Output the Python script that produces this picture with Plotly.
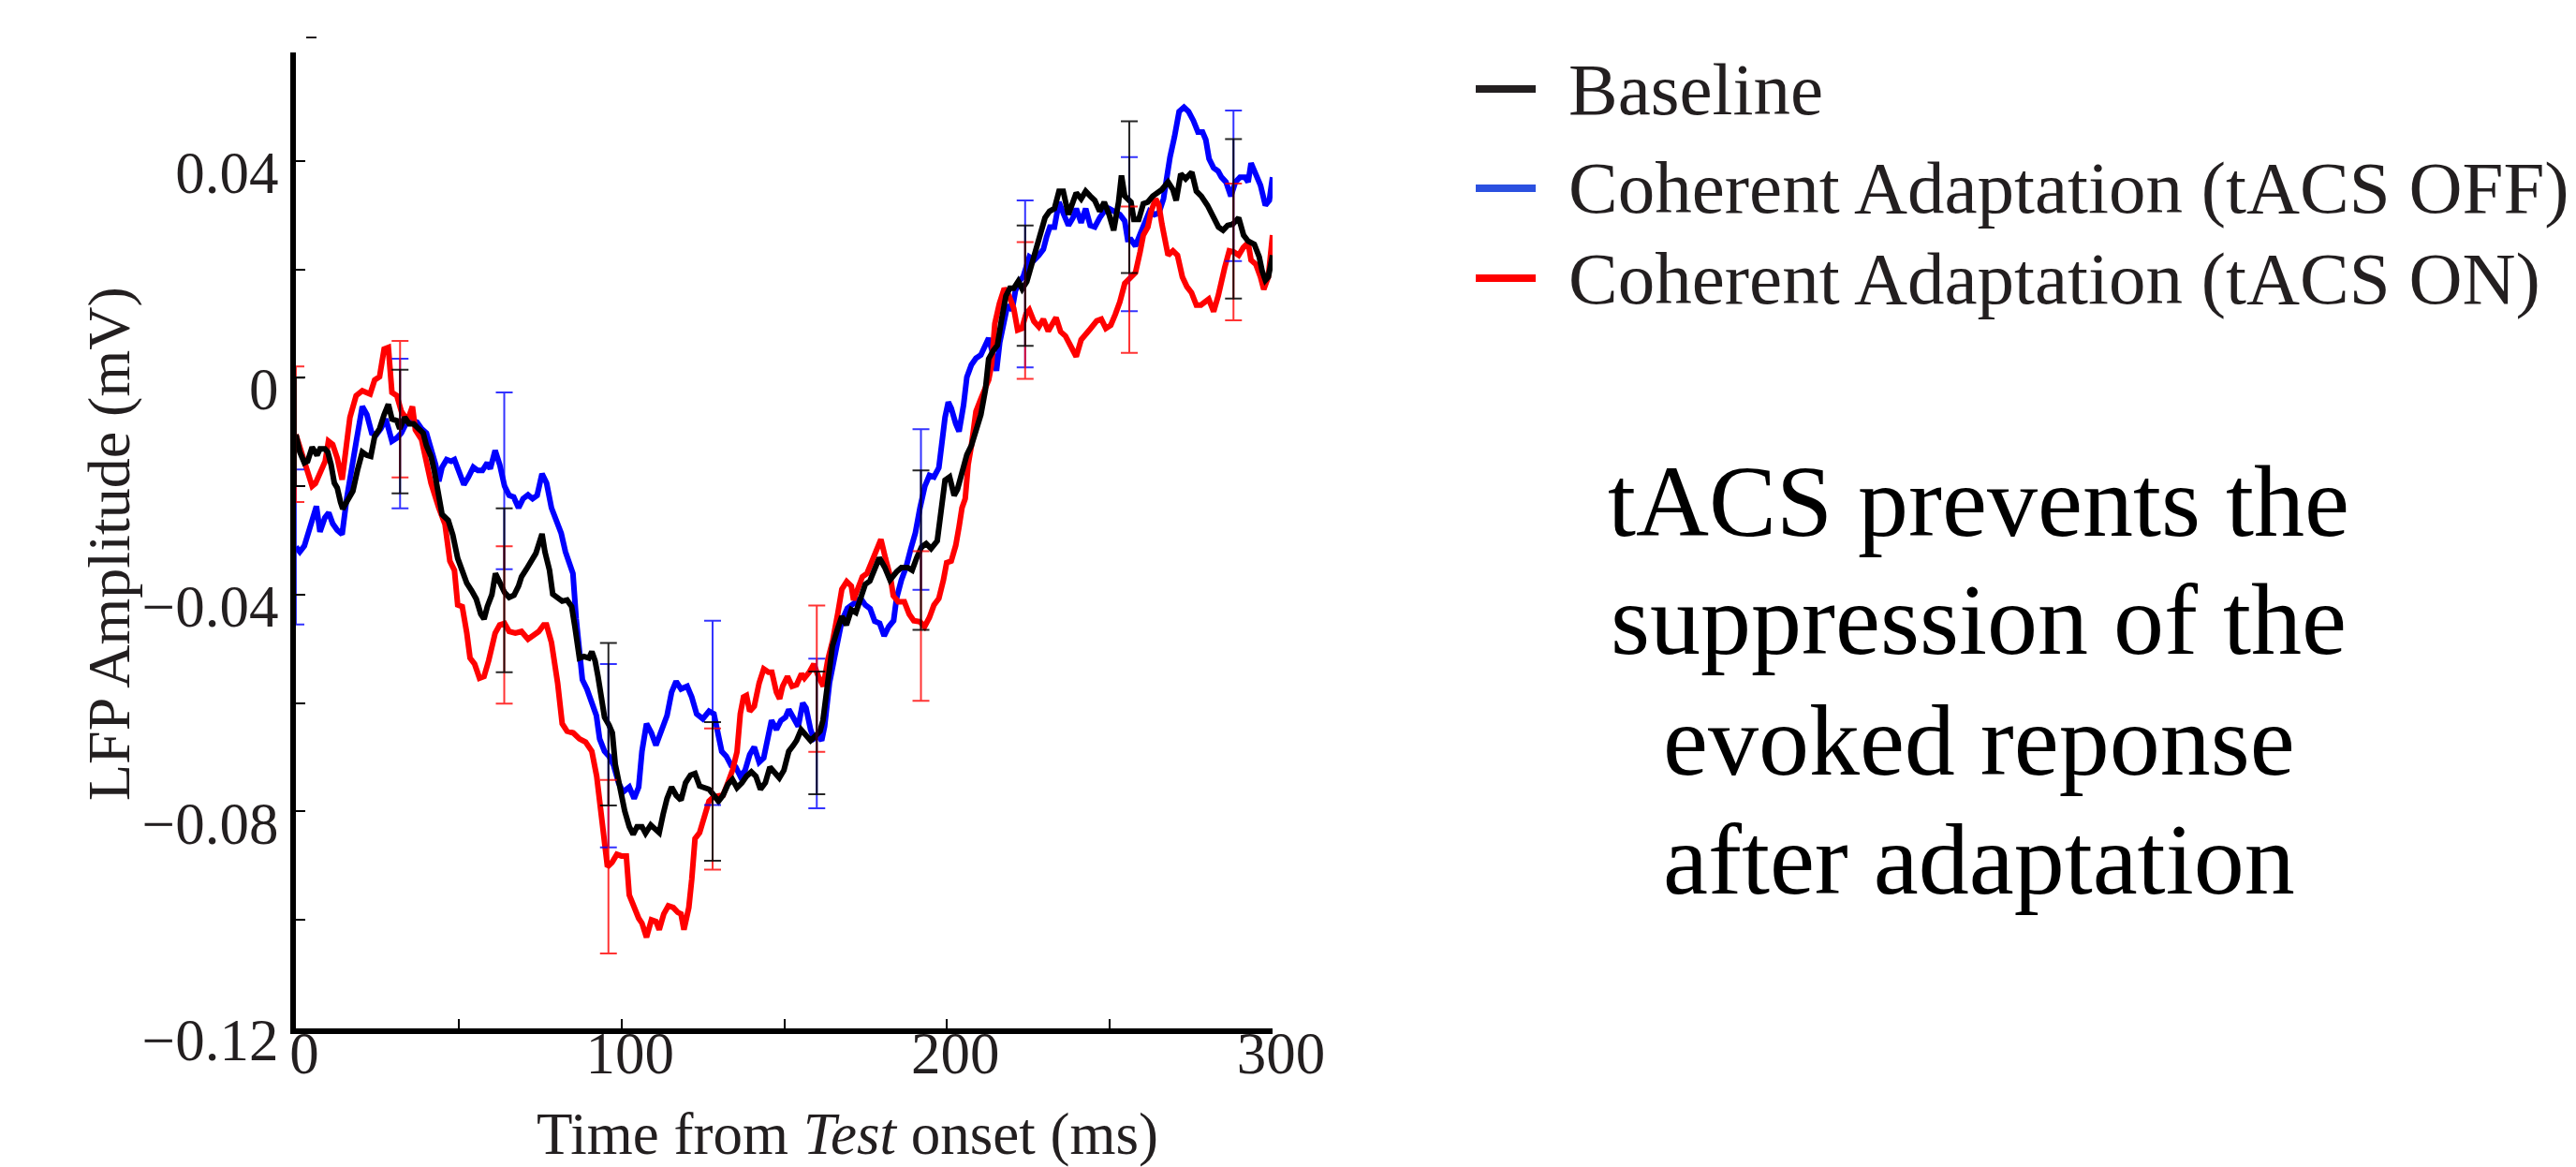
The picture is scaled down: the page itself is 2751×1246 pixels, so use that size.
import plotly.graph_objects as go

# ---------------- data ----------------
series_names = ["Baseline", "Coherent Adaptation (tACS OFF)", "Coherent Adaptation (tACS ON)"]

t_base = [0, 1.2, 2.6, 3.6, 5, 6.5, 7.4, 8.9, 9.8, 10.8, 11.8, 12.7, 13.7, 14.4, 15.6, 17.5, 18.9, 20.4, 21.8, 23,
          24.2, 25.7, 27.1, 28.4, 29.5, 31, 31.9, 33.4, 34.8, 36.2, 37.7, 39.1, 40.1, 41.5, 42.5, 43.7, 44.9, 46.8, 48.2, 49.7,
          51.1, 52.5, 54, 55.4, 56.8, 57.8, 58.8, 60.2, 61.3, 62.6, 64.1, 65.5, 67, 68.4, 69.3, 70.8, 72.2, 73.7, 74.6, 75.6,
          76.5, 77.9, 78.9, 80.4, 81.8, 83.3, 84.7, 85.7, 87.1, 88.5, 90, 90.9, 91.9, 92.8, 93.8, 94.8, 96.2, 97.2, 98.1, 99.6,
          101, 102.4, 103.6, 104.8, 106.3, 107.4, 109, 110.1, 111.6, 112.8, 114, 115.4, 116.8, 118.3, 119.7, 121.2, 122.6, 124, 125.5, 126.9,
          128.4, 129.8, 131.2, 132.7, 134.1, 135.5, 137, 138.4, 139.9, 141.3, 142.7, 144.2, 145.6, 147.1, 148.5, 149.9, 151.4, 152.8, 153.8, 155.2,
          156.7, 158.1, 159.5, 161, 161.9, 163.4, 164.8, 166.3, 167.7, 169.1, 170.6, 172, 173.5, 174.9, 176.3, 177.8, 179.2, 180.9, 182.5, 184.5,
          186, 187.9, 189.3, 190.7, 192.2, 193.6, 195.1, 197, 197.9, 199.4, 200.8, 202.2, 203.2, 204.6, 206.1, 207.5, 208.9, 210.4, 211.8, 212.8,
          214.2, 215.5, 216.7, 218.1, 219.3, 220.5, 221.9, 223.1, 224.5, 225.8, 227.2, 228.7, 230.1, 231.5, 233, 234.4, 235.7, 237.3, 238.7, 239.7,
          241.2, 242.6, 244, 245.4, 246.9, 248.3, 249.8, 251.2, 252.7, 253.6, 254.6, 255.5, 256.5, 257.4, 258.9, 260.3, 261.7, 263.2, 264.6, 266,
          267.9, 269.4, 270.4, 271.8, 273.3, 275.2, 276.6, 278.1, 280, 281.9, 283.4, 284.8, 286.2, 287.7, 289.6, 291.1, 292.5, 294.4, 295.9, 296.8,
          297.8, 298.7, 300]
v_base = [-0.0105, -0.0137, -0.0157, -0.0154, -0.0128, -0.0143, -0.0131, -0.0131, -0.0137, -0.0160, -0.0194, -0.0203, -0.0229, -0.0242, -0.0229, -0.0209, -0.0171, -0.0137, -0.0143, -0.0145,
          -0.0108, -0.0094, -0.0068, -0.0049, -0.0076, -0.0079, -0.0094, -0.0073, -0.0085, -0.0085, -0.0094, -0.0102, -0.0125, -0.0145, -0.0171, -0.0217, -0.0252, -0.0263, -0.0290, -0.0333,
          -0.0356, -0.0379, -0.0393, -0.0408, -0.0436, -0.0445, -0.0422, -0.0400, -0.0361, -0.0379, -0.0396, -0.0405, -0.0401, -0.0384, -0.0367, -0.0353, -0.0338, -0.0324, -0.0307, -0.0288,
          -0.0321, -0.0355, -0.0399, -0.0407, -0.0412, -0.0410, -0.0422, -0.0459, -0.0517, -0.0514, -0.0517, -0.0505, -0.0522, -0.0551, -0.0586, -0.0626, -0.0641, -0.0655, -0.0713, -0.0759,
          -0.0799, -0.0828, -0.0842, -0.0828, -0.0828, -0.0840, -0.0825, -0.0831, -0.0839, -0.0805, -0.0776, -0.0755, -0.0770, -0.0779, -0.0747, -0.0733, -0.0730, -0.0753, -0.0756, -0.0759,
          -0.0770, -0.0781, -0.0770, -0.0750, -0.0741, -0.0756, -0.0747, -0.0735, -0.0727, -0.0735, -0.0759, -0.0747, -0.0718, -0.0730, -0.0738, -0.0724, -0.0689, -0.0678, -0.0669, -0.0649,
          -0.0661, -0.0669, -0.0661, -0.0652, -0.0632, -0.0563, -0.0495, -0.0465, -0.0440, -0.0456, -0.0428, -0.0433, -0.0402, -0.0381, -0.0375, -0.0353, -0.0332, -0.0350, -0.0373, -0.0358,
          -0.0350, -0.0350, -0.0355, -0.0332, -0.0312, -0.0306, -0.0315, -0.0301, -0.0263, -0.0189, -0.0183, -0.0217, -0.0206, -0.0171, -0.0142, -0.0125, -0.0096, -0.0068, -0.0022, 0.0035,
          0.0050, 0.0060, 0.0105, 0.0151, 0.0165, 0.0165, 0.0178, 0.0164, 0.0177, 0.0205, 0.0237, 0.0263, 0.0295, 0.0307, 0.0312, 0.0344, 0.0344, 0.0301, 0.0324, 0.0341,
          0.0330, 0.0344, 0.0335, 0.0327, 0.0307, 0.0324, 0.0301, 0.0272, 0.0324, 0.0373, 0.0335, 0.0330, 0.0324, 0.0292, 0.0292, 0.0321, 0.0324, 0.0335, 0.0341, 0.0347,
          0.0361, 0.0347, 0.0327, 0.0376, 0.0367, 0.0379, 0.0344, 0.0335, 0.0318, 0.0295, 0.0278, 0.0272, 0.0281, 0.0283, 0.0295, 0.0263, 0.0252, 0.0246, 0.0223, 0.0197,
          0.0180, 0.0186, 0.0226]

t_off = [0, 1.2, 2.6, 4.1, 6.3, 7.4, 8.9, 10.1, 11.3, 12.7, 14.2, 15.6, 17, 18.5, 20.4, 21.8, 23.3, 24.7, 26.1, 27.6,
         28.6, 29.5, 31, 32.4, 33.8, 35.7, 37.2, 38.6, 40.1, 41.5, 42.9, 43.9, 44.9, 46.3, 47.7, 48.7, 50.1, 51.6, 53, 54.5,
         55.9, 57.3, 58.8, 59.7, 61.2, 62.6, 64.1, 65.5, 66.9, 68.4, 69.8, 71.3, 72.7, 74.1, 75.6, 77, 78.5, 79.9, 81.5, 82.8,
         84.3, 85.1, 86.1, 87.1, 88, 89.4, 90.9, 92.3, 93.3, 94.8, 96.2, 97.6, 99.1, 100.5, 102.4, 103.9, 105.3, 106.3, 107.7, 109.2,
         110.6, 112, 114, 115.4, 116.8, 118.3, 120.2, 121.6, 123.1, 125, 126.9, 128.4, 129.8, 130.8, 132.2, 133.7, 135.1, 136.5, 138, 139.4,
         140.8, 142.3, 143.7, 145.2, 146.1, 147.6, 149, 150.4, 151.4, 153.3, 154.3, 155.7, 156.7, 158.1, 159.1, 160.5, 161.5, 162.4, 163.9, 165.8,
         167.7, 169.4, 171.3, 173.5, 174.9, 176.4, 177.8, 179.3, 180.7, 182.1, 183.6, 184.5, 186, 187.4, 188.9, 190.3, 191.7, 193.2, 194.6, 196,
         197.5, 198.4, 199.4, 200.4, 201.3, 202.7, 203.7, 205.1, 206.1, 207.5, 208.9, 210.4, 211.3, 212.8, 213.7, 215.2, 216.2, 217.1, 218.6, 220,
         221, 222.4, 223.4, 225.3, 226.8, 228.2, 229.6, 230.6, 231.6, 233, 234.4, 235.9, 237.3, 238.7, 239.7, 241.2, 242.6, 244, 245.4, 246.9,
         248.3, 249.8, 251.2, 253.1, 254.6, 255.5, 256.5, 257.9, 259.4, 260.8, 262.2, 263.7, 265.1, 266.5, 267.5, 268.5, 269.9, 271.3, 272.8, 274.2,
         275.7, 277.1, 278.5, 279.5, 280.5, 281.9, 283.3, 284.3, 285.7, 287.2, 288.6, 290, 291.5, 292.5, 293.4, 294.9, 296.3, 297.8, 299, 300]
v_off = [-0.0312, -0.0321, -0.0310, -0.0281, -0.0237, -0.0284, -0.0258, -0.0249, -0.0269, -0.0281, -0.0289, -0.0223, -0.0165, -0.0119, -0.0053, -0.0068, -0.0102, -0.0105, -0.0094, -0.0076,
         -0.0097, -0.0117, -0.0111, -0.0102, -0.0085, -0.0079, -0.0082, -0.0094, -0.0102, -0.0131, -0.0160, -0.0191, -0.0165, -0.0151, -0.0154, -0.0151, -0.0177, -0.0197, -0.0183, -0.0165,
         -0.0171, -0.0171, -0.0157, -0.0168, -0.0134, -0.0160, -0.0200, -0.0217, -0.0220, -0.0240, -0.0223, -0.0216, -0.0223, -0.0217, -0.0177, -0.0194, -0.0240, -0.0263, -0.0287, -0.0321,
         -0.0344, -0.0361, -0.0445, -0.0517, -0.0557, -0.0574, -0.0603, -0.0623, -0.0666, -0.0689, -0.0698, -0.0715, -0.0747, -0.0764, -0.0755, -0.0776, -0.0755, -0.0689, -0.0638, -0.0655,
         -0.0678, -0.0658, -0.0623, -0.0580, -0.0560, -0.0574, -0.0569, -0.0589, -0.0620, -0.0629, -0.0615, -0.0620, -0.0661, -0.0689, -0.0698, -0.0715, -0.0718, -0.0735, -0.0724, -0.0695,
         -0.0681, -0.0709, -0.0701, -0.0649, -0.0632, -0.0649, -0.0632, -0.0626, -0.0612, -0.0632, -0.0643, -0.0600, -0.0609, -0.0649, -0.0666, -0.0661, -0.0669, -0.0643, -0.0563, -0.0505,
         -0.0448, -0.0425, -0.0416, -0.0407, -0.0419, -0.0426, -0.0449, -0.0453, -0.0476, -0.0459, -0.0448, -0.0407, -0.0373, -0.0350, -0.0315, -0.0286, -0.0240, -0.0200, -0.0180, -0.0183,
         -0.0166, -0.0119, -0.0073, -0.0045, -0.0056, -0.0085, -0.0099, -0.0050, 0.0001, 0.0024, 0.0036, 0.0042, 0.0053, 0.0073, 0.0053, 0.0013, 0.0065, 0.0094, 0.0134, 0.0125,
         0.0160, 0.0180, 0.0186, 0.0223, 0.0217, 0.0226, 0.0237, 0.0260, 0.0278, 0.0278, 0.0324, 0.0301, 0.0281, 0.0295, 0.0312, 0.0286, 0.0312, 0.0281, 0.0278, 0.0295,
         0.0307, 0.0312, 0.0307, 0.0301, 0.0289, 0.0255, 0.0255, 0.0243, 0.0266, 0.0289, 0.0307, 0.0301, 0.0304, 0.0330, 0.0376, 0.0407, 0.0445, 0.0491, 0.0499, 0.0491,
         0.0474, 0.0453, 0.0453, 0.0439, 0.0404, 0.0387, 0.0381, 0.0370, 0.0361, 0.0335, 0.0361, 0.0370, 0.0370, 0.0361, 0.0396, 0.0373, 0.0355, 0.0318, 0.0327, 0.0370]

t_on = [0, 2.5, 5, 6, 7.5, 9, 10, 11.3, 12.7, 14.2, 16.6, 18.5, 20.4, 22.8, 24.2, 25.7, 27.1, 28.4, 29.5, 31,
        32.4, 34.3, 35.8, 36.7, 38.6, 40, 41.5, 43.9, 45.8, 47.3, 48.7, 49.7, 51.1, 52.5, 53.5, 54.9, 56.4, 57.8, 59.2, 61.2,
        62.6, 64.1, 65.5, 67.4, 69.3, 71.3, 72.7, 74.6, 76.1, 77, 78.5, 80.4, 81.8, 83.3, 85.2, 87.1, 89, 90.9, 92.4, 93.8,
        94.8, 95.7, 97.1, 98.6, 100, 101.5, 102.4, 103.9, 105.3, 106.3, 107.7, 109.2, 110.6, 111.6, 113, 114.4, 115.9, 117.3, 118.3, 119.2,
        120.7, 121.6, 122.6, 124, 125.5, 126.9, 128.3, 131.2, 132.7, 134.1, 135.5, 136.5, 137.5, 138.4, 139.4, 140.8, 142.3, 143.7, 145.2, 146.2,
        147.6, 148.6, 149.5, 151, 152.4, 153.8, 155.3, 156.2, 157.7, 159.1, 160.5, 162, 163.4, 164.9, 166.5, 167.7, 169.2, 170.6, 171.3, 172.5,
        174, 175.4, 176.8, 178.3, 179.7, 181.1, 182.6, 183.5, 185, 186.9, 188.4, 189.8, 191.7, 193.1, 194.6, 196, 197.5, 198.9, 199.9, 201.3,
        202.7, 203.7, 204.6, 205.6, 206.5, 207.5, 208.9, 210.4, 211.8, 212.8, 213.7, 214.7, 216.1, 217.6, 219, 220.5, 221.7, 223, 224.3, 225.3,
        226.7, 228.2, 229.6, 231.1, 233.5, 234.9, 236.4, 237.8, 239.7, 241.2, 242.6, 244, 246, 247.4, 248.8, 250.3, 251.7, 253.1, 254.6, 256,
        257.9, 259.3, 260.3, 261.7, 262.7, 264.1, 265.1, 266, 267, 267.9, 269.4, 270.8, 272.3, 273.7, 275.1, 276.6, 278, 279.5, 280.4, 281.9,
        283.3, 285.3, 286.7, 288.1, 289.6, 291, 292.5, 293.4, 294.9, 296.3, 297.3, 298.7, 300]
v_on = [-0.0105, -0.0150, -0.0200, -0.0195, -0.0171, -0.0154, -0.0117, -0.0123, -0.0148, -0.0188, -0.0073, -0.0033, -0.0024, -0.0030, -0.0004, 0.0002, 0.0053, 0.0056, -0.0027, -0.0033,
        -0.0062, -0.0079, -0.0053, -0.0096, -0.0114, -0.0148, -0.0194, -0.0240, -0.0270, -0.0338, -0.0355, -0.0419, -0.0422, -0.0471, -0.0517, -0.0528, -0.0554, -0.0551, -0.0522, -0.0471,
        -0.0456, -0.0453, -0.0468, -0.0471, -0.0468, -0.0482, -0.0476, -0.0468, -0.0456, -0.0456, -0.0488, -0.0563, -0.0638, -0.0652, -0.0655, -0.0666, -0.0672, -0.0689, -0.0735, -0.0805,
        -0.0862, -0.0902, -0.0894, -0.0879, -0.0882, -0.0882, -0.0954, -0.0977, -0.0997, -0.1006, -0.1032, -0.1000, -0.1003, -0.1018, -0.0989, -0.0974, -0.0977, -0.0986, -0.0989, -0.1018,
        -0.0977, -0.0925, -0.0850, -0.0839, -0.0805, -0.0781, -0.0773, -0.0770, -0.0747, -0.0724, -0.0690, -0.0620, -0.0589, -0.0586, -0.0615, -0.0606, -0.0563, -0.0537, -0.0543, -0.0543,
        -0.0580, -0.0592, -0.0569, -0.0551, -0.0569, -0.0566, -0.0546, -0.0554, -0.0543, -0.0528, -0.0551, -0.0569, -0.0520, -0.0485, -0.0433, -0.0390, -0.0376, -0.0384, -0.0410, -0.0391,
        -0.0367, -0.0361, -0.0340, -0.0320, -0.0298, -0.0333, -0.0367, -0.0402, -0.0413, -0.0413, -0.0436, -0.0448, -0.0450, -0.0459, -0.0442, -0.0419, -0.0407, -0.0373, -0.0341, -0.0338,
        -0.0309, -0.0275, -0.0240, -0.0223, -0.0160, -0.0125, -0.0062, -0.0039, -0.0016, -0.0004, 0.0024, 0.0100, 0.0137, 0.0165, 0.0152, 0.0128, 0.0088, 0.0091, 0.0118, 0.0125,
        0.0104, 0.0094, 0.0108, 0.0086, 0.0111, 0.0085, 0.0077, 0.0060, 0.0039, 0.0070, 0.0082, 0.0090, 0.0105, 0.0108, 0.0091, 0.0097, 0.0117, 0.0140, 0.0174, 0.0183,
        0.0194, 0.0232, 0.0263, 0.0278, 0.0307, 0.0330, 0.0318, 0.0284, 0.0255, 0.0226, 0.0234, 0.0226, 0.0186, 0.0168, 0.0157, 0.0134, 0.0134, 0.0143, 0.0145, 0.0122,
        0.0151, 0.0203, 0.0234, 0.0232, 0.0226, 0.0240, 0.0249, 0.0217, 0.0209, 0.0186, 0.0163, 0.0186, 0.0263]

# error bars (centre and half-width), every 32 ms
err_t = [0, 32, 64, 96, 128, 160, 192, 224, 256, 288]
err_c_base = [-0.0100, -0.0099, -0.0392, -0.0639, -0.0763, -0.0655, -0.0318, 0.0170, 0.0333, 0.0293]
err_h_base = [0.0100, 0.0114, 0.0151, 0.0150, 0.0128, 0.0113, 0.0147, 0.0111, 0.0140, 0.0147]
err_c_off = [-0.0312, -0.0103, -0.0190, -0.0697, -0.0618, -0.0656, -0.0243, 0.0173, 0.0265, 0.0354]
err_h_off = [0.0143, 0.0138, 0.0163, 0.0169, 0.0170, 0.0138, 0.0148, 0.0154, 0.0142, 0.0139]
err_c_on = [-0.0104, -0.0058, -0.0456, -0.0902, -0.0777, -0.0555, -0.0458, 0.0124, 0.0181, 0.0232]
err_h_on = [0.0125, 0.0126, 0.0145, 0.0160, 0.0130, 0.0135, 0.0138, 0.0126, 0.0135, 0.0126]

x_ticks = [0, 50, 100, 150, 200, 250, 300]
x_ticktext = ["0", "", "100", "", "200", "", "300"]
y_ticks = [-0.12, -0.10, -0.08, -0.06, -0.04, -0.02, 0, 0.02, 0.04, 0.06]
y_ticktext = ["\u22120.12", "", "\u22120.08", "", "\u22120.04", "", "0", "", "0.04", ""]

note_lines = ["tACS prevents the", "suppression of the", "evoked reponse", "after adaptation"]

# ---------------- layout geometry ----------------
W, H = 2751, 1246
L, R, T, B = 308, 1400, 48, 156
PW, PH = W - L - R, H - T - B
FONT = "Liberation Serif"
TXT = "#231f20"


def px_x(px):
    return (px - L) / PW


def px_y(py):
    return (H - B - py) / PH


fig = go.Figure()

line_specs = [
    (t_off, v_off, "#0000ff"),
    (t_on, v_on, "#ff0000"),
    (t_base, v_base, "#000000"),
]
for tt, vv, col in line_specs:
    fig.add_trace(go.Scatter(x=tt, y=vv, mode="lines", line=dict(color=col, width=6),
                             showlegend=False, hoverinfo="skip"))

err_specs = [
    (err_c_off, err_h_off, "rgba(0,0,255,0.8)"),
    (err_c_on, err_h_on, "rgba(255,0,0,0.8)"),
    (err_c_base, err_h_base, "rgba(0,0,0,0.85)"),
]
for cc, hh, col in err_specs:
    fig.add_trace(go.Scatter(x=err_t, y=cc, mode="markers",
                             marker=dict(size=1, color="rgba(0,0,0,0)"),
                             error_y=dict(type="data", array=hh, symmetric=True, color=col,
                                          thickness=2, width=9),
                             showlegend=False, hoverinfo="skip"))

axis_common = dict(showgrid=False, zeroline=False, showline=True, linecolor="#000000", linewidth=6,
                   ticks="inside", ticklen=10, tickwidth=2, tickcolor="#000000",
                   tickfont=dict(family=FONT, size=63, color=TXT))

fig.update_xaxes(range=[0, 300], tickmode="array", tickvals=x_ticks, ticktext=x_ticktext,
                 ticklabelstandoff=-34, ticklabelshift=9, **axis_common)
fig.update_yaxes(range=[-0.12, 0.06], tickmode="array", tickvals=y_ticks, ticktext=y_ticktext,
                 ticklabelshift=12, **axis_common)

annotations = []
shapes = []

# axis titles
annotations.append(dict(text="Time from <i>Test</i> onset (ms)", xref="paper", yref="paper",
                        x=px_x(897), y=px_y(1203), xanchor="center", yanchor="middle", showarrow=False,
                        font=dict(family=FONT, size=63, color=TXT)))
annotations.append(dict(text="LFP Amplitude (mV)", xref="paper", yref="paper", textangle=-90,
                        x=px_x(108), y=px_y(573), xanchor="center", yanchor="middle", showarrow=False,
                        font=dict(family=FONT, size=64, color=TXT)))

# legend (drawn manually to match long swatches)
legend_colors = ["#231f20", "#2b50e0", "#ff0000"]
legend_y = [87, 193, 289]
for name, col, yy in zip(series_names, legend_colors, legend_y):
    shapes.append(dict(type="line", xref="paper", yref="paper", x0=px_x(1568), x1=px_x(1632),
                       y0=px_y(yy), y1=px_y(yy), line=dict(color=col, width=8)))
    annotations.append(dict(text=name, xref="paper", yref="paper", x=px_x(1665), y=px_y(yy),
                            xanchor="left", yanchor="middle", showarrow=False,
                            font=dict(family=FONT, size=79, color=TXT)))

# side note
note_y = [527, 653, 782, 909]
for line, yy in zip(note_lines, note_y):
    annotations.append(dict(text=line, xref="paper", yref="paper", x=px_x(2105), y=px_y(yy),
                            xanchor="center", yanchor="middle", showarrow=False,
                            font=dict(family=FONT, size=108, color="#000000")))

# small stray dash above the axis top
shapes.append(dict(type="line", xref="paper", yref="paper", x0=px_x(319), x1=px_x(330),
                   y0=px_y(32), y1=px_y(32), line=dict(color=TXT, width=2)))

fig.update_layout(width=W, height=H, margin=dict(l=L, r=R, t=T, b=B),
                  paper_bgcolor="white", plot_bgcolor="white",
                  annotations=annotations, shapes=shapes, showlegend=False)

fig.write_html("out.html")
